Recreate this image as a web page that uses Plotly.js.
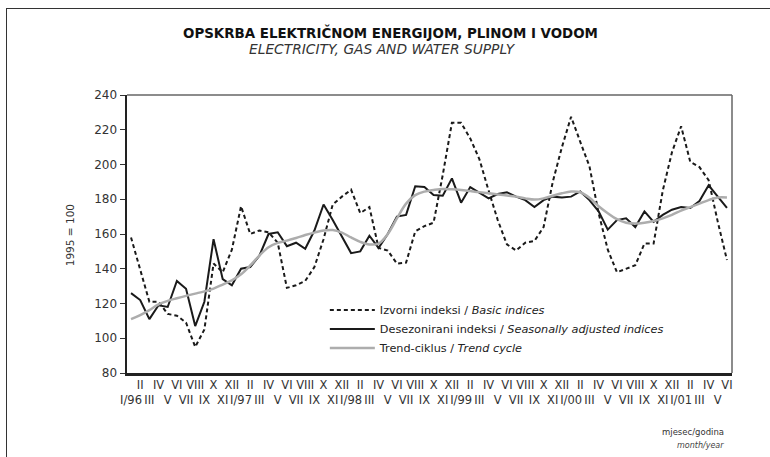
<!DOCTYPE html>
<html>
<head>
<meta charset="utf-8">
<script src="https://cdn.plot.ly/plotly-3.0.1.min.js"></script>
<style>
  body { margin: 0; background: #fff; }
  #frame { position: absolute; left: 6px; top: 8px; width: 800px; height: 500px;
           border-left: 1px solid #333; border-top: 1px solid #333; }
  #chart { position: absolute; left: 0; top: 0; width: 770px; height: 457px; }
</style>
</head>
<body>
<div id="frame"></div>
<div id="chart"></div>
<script>
// Opskrba električnom energijom, plinom i vodom - indeksi 1995 = 100

var months = ['I/96', 'II', 'III', 'IV', 'V', 'VI', 'VII', 'VIII', 'IX', 'X', 'XI', 'XII',
    'I/97', 'II', 'III', 'IV', 'V', 'VI', 'VII', 'VIII', 'IX', 'X', 'XI', 'XII',
    'I/98', 'II', 'III', 'IV', 'V', 'VI', 'VII', 'VIII', 'IX', 'X', 'XI', 'XII',
    'I/99', 'II', 'III', 'IV', 'V', 'VI', 'VII', 'VIII', 'IX', 'X', 'XI', 'XII',
    'I/00', 'II', 'III', 'IV', 'V', 'VI', 'VII', 'VIII', 'IX', 'X', 'XI', 'XII',
    'I/01', 'II', 'III', 'IV', 'V', 'VI'];

var basic = [158, 139, 121, 121, 114, 113, 109, 95, 105, 143, 138, 151,
    176, 160, 162, 161, 155, 129, 130.5, 133, 141, 157, 177, 181.5,
    185.5, 172, 175.5, 152, 150.5, 143, 143.5, 161.5, 164.5, 166.5, 194, 224,
    224, 215, 203, 185, 168, 154, 150.5, 155, 156, 164, 190, 210,
    227.5, 213, 199, 172, 151, 138, 140, 142, 154.5, 154.5, 185, 207,
    222, 201.5, 198.5, 191, 167, 145];

var seasAdj = [126, 122, 111, 119, 118, 133, 128.5, 107, 121, 157, 134, 130.5,
    140, 141, 147.5, 160, 161, 153, 155, 151.5, 162, 177, 168, 158.5,
    149, 150, 159, 152, 160, 170, 171, 187.5, 187, 182.5, 182, 192,
    178, 187, 183.5, 180.5, 183, 184, 181.5, 179.5, 175.5, 179.5, 181.5, 181,
    181.5, 184.5, 179.5, 173, 162.5, 168, 169, 164, 173, 167, 171, 174,
    175.5, 175, 179, 188, 181.5, 175];

var trend = [111, 113.3, 116.2, 119.5, 121.5, 123, 124.4, 125.7, 127, 128.6, 130.9, 133.3,
    136.8, 141.9, 147.6, 152.4, 154.9, 156.2, 157.7, 159.4, 160.8, 162, 162.3, 160.8,
    158, 155.5, 154, 154.5, 160, 169, 177.5, 182.4, 184.4, 185.3, 185.9, 185.7,
    185.3, 184.7, 184.1, 183.4, 182.8, 182.2, 181.5, 180.5, 179.8, 180.5, 182, 183.4,
    184.4, 184, 180.8, 176, 172, 168.5, 166.5, 166, 166.5, 167.5, 169, 171,
    173.5, 175.5, 177.5, 179.5, 181, 181];

var xIdx = months.map(function (m, i) { return i; });
// odd months go on the second row of labels
var tickText = months.map(function (m, i) { return i % 2 === 0 ? '<br>' + m : m; });

var font = '"DejaVu Sans", Verdana, sans-serif';

var lineBasic = {
    x: xIdx,
    y: basic,
    type: 'scatter',
    mode: 'lines',
    name: 'Izvorni indeksi / <i>Basic indices</i>',
    line: { color: '#1a1a1a', width: 2, dash: '4px,3px' }
};

var lineSeas = {
    x: xIdx,
    y: seasAdj,
    type: 'scatter',
    mode: 'lines',
    name: 'Desezonirani indeksi / <i>Seasonally adjusted indices</i>',
    line: { color: '#1a1a1a', width: 2 }
};

var lineTrend = {
    x: xIdx,
    y: trend,
    type: 'scatter',
    mode: 'lines',
    name: 'Trend-ciklus / <i>Trend cycle</i>',
    line: { color: '#adadad', width: 2.5, shape: 'spline' }
};

var layout = {
    width: 770,
    height: 457,
    margin: { l: 127, r: 38, t: 95, b: 84 },
    paper_bgcolor: 'rgba(0,0,0,0)',
    plot_bgcolor: 'rgba(0,0,0,0)',
    font: { family: font, size: 12, color: '#333' },
    showlegend: true,
    legend: {
        x: 0.327, y: 0.279, xanchor: 'left', yanchor: 'top',
        bgcolor: 'rgba(0,0,0,0)',
        itemwidth: 45,
        font: { family: font, size: 11.25, color: '#222' },
        tracegroupgap: 0
    },
    xaxis: {
        range: [-0.44, 65.55],
        tickmode: 'array',
        tickvals: xIdx,
        ticktext: tickText,
        tickangle: 0,
        ticks: '',
        showgrid: false,
        zeroline: false,
        showline: true,
        linecolor: '#222',
        linewidth: 2.5,
        tickfont: { family: font, size: 11.5, color: '#333' }
    },
    yaxis: {
        range: [80, 240],
        dtick: 20,
        ticks: 'outside',
        ticklen: 5,
        tickwidth: 1,
        tickcolor: '#333',
        showgrid: false,
        zeroline: false,
        showline: true,
        linecolor: '#222',
        linewidth: 2.5,
        tickfont: { family: font, size: 12, color: '#333' }
    },
    shapes: [
        { type: 'line', xref: 'paper', yref: 'paper', x0: 0, x1: 1, y0: 1, y1: 1,
          line: { color: '#666', width: 1.5 } },
        { type: 'line', xref: 'paper', yref: 'paper', x0: 1, x1: 1, y0: 0, y1: 1,
          line: { color: '#666', width: 1.5 } }
    ],
    annotations: [
        { text: '<b>OPSKRBA ELEKTRIČNOM ENERGIJOM, PLINOM I VODOM</b>', xref: 'paper', yref: 'paper',
          x: 0.435, y: 1.225, xanchor: 'center', yanchor: 'middle', showarrow: false,
          font: { family: font, size: 13.4, color: '#111' } },
        { text: '<i>ELECTRICITY, GAS AND WATER SUPPLY</i>', xref: 'paper', yref: 'paper',
          x: 0.423, y: 1.166, xanchor: 'center', yanchor: 'middle', showarrow: false,
          font: { family: font, size: 13.8, color: '#333' } },
        { text: '1995 = 100', xref: 'paper', yref: 'paper', textangle: -90,
          x: -0.094, y: 0.496, xanchor: 'center', yanchor: 'middle', showarrow: false,
          font: { family: font, size: 10.5, color: '#333' } },
        { text: 'mjesec/godina', xref: 'paper', yref: 'paper',
          x: 0.99, y: -0.212, xanchor: 'right', yanchor: 'middle', showarrow: false,
          font: { family: font, size: 8.5, color: '#333' } },
        { text: '<i>month/year</i>', xref: 'paper', yref: 'paper',
          x: 0.99, y: -0.259, xanchor: 'right', yanchor: 'middle', showarrow: false,
          font: { family: font, size: 8, color: '#444' } }
    ]
};

Plotly.newPlot('chart', [lineBasic, lineSeas, lineTrend], layout, { displayModeBar: false, staticPlot: true });
</script>
</body>
</html>
